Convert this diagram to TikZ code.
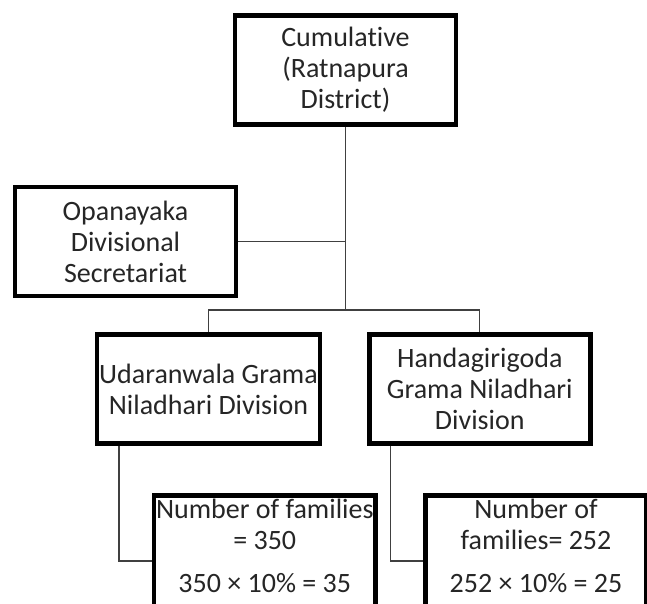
\documentclass[tikz,border=0pt]{standalone}
\usepackage{fontspec}
\setmainfont{Carlito}[Ligatures=NoCommon]
\usetikzlibrary{positioning}

\begin{document}
\begin{tikzpicture}[
    x=1pt, y=-1pt,
    font=\fontsize{28}{31}\selectfont,
    box_style/.style={draw=black, line width=4.5pt, fill=white, rectangle, text=black!85, align=center, minimum width=221pt, minimum height=109pt, inner sep=2pt},
    fam_style/.style={box_style, anchor=north, text depth=30pt, inner ysep=4pt},
    link_style/.style={draw=black!75, line width=1.4pt}
]

\useasboundingbox (0,0) rectangle (647,603);

\node[box_style] (district) at (345.5,70) {Cumulative\\(Ratnapura\\District)};
\node[box_style] (opanayaka) at (125.5,241.5) {Opanayaka\\Divisional\\Secretariat};
\node[box_style] (udaranwala) at (208.5,389) {Udaranwala Grama\\Niladhari Division};
\node[box_style, right=45pt of udaranwala] (handagiri) {Handagirigoda\\Grama Niladhari\\Division};
\node[fam_style] (fam_udara) at (264.75,493) {Number of families\\= 350\\[12pt]350 × 10\% = 35};
\node[fam_style, right=45.5pt of fam_udara] (fam_handa) {Number of\\families= 252\\[12pt]252 × 10\% = 25};

\coordinate (split) at (345.5,310);

\draw[link_style] (district) -- (split);
\draw[link_style] (opanayaka) -- (opanayaka -| split);
\draw[link_style] (udaranwala.north) |- (split) -| (handagiri.north);
\draw[link_style] ([xshift=-89.5pt]udaranwala.south) |- (fam_udara.west);
\draw[link_style] ([xshift=-89.5pt]handagiri.south) |- (fam_handa.west);

\end{tikzpicture}
\end{document}
